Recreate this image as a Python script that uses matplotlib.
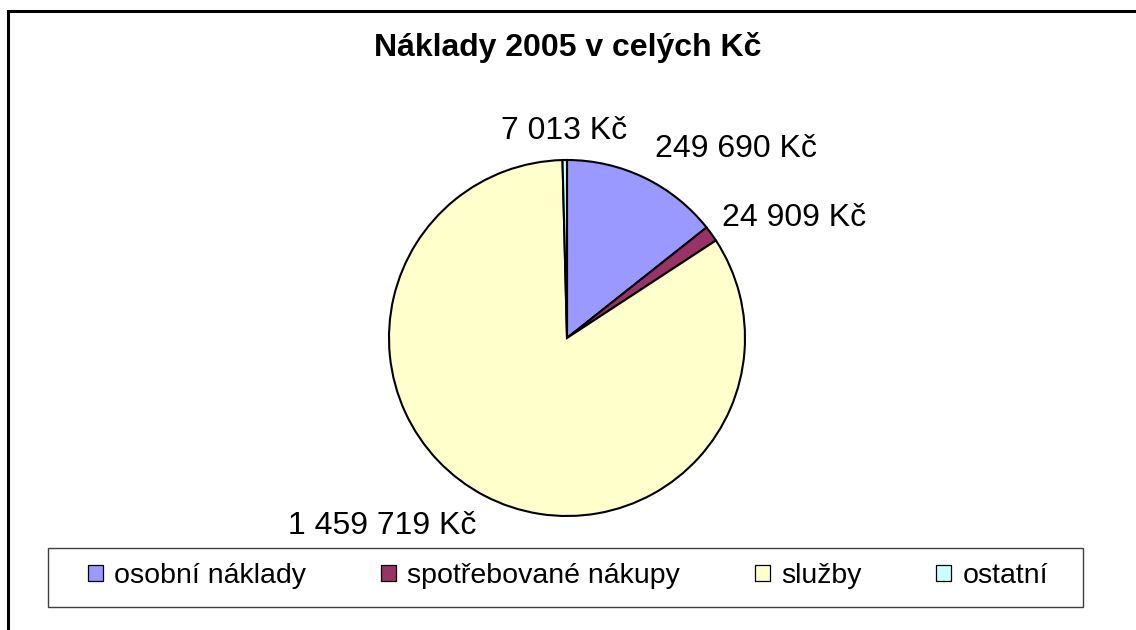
import numpy as np
import matplotlib.pyplot as plt
from matplotlib.patches import Rectangle, Patch

# písmo kompatibilní s Arialem
plt.rcParams['font.family'] = ['Liberation Sans', 'DejaVu Sans']

# data
kategorie = ['osobní náklady', 'spotřebované nákupy', 'služby', 'ostatní']
naklady = [249690, 24909, 1459719, 7013]
popisky = ['249 690 Kč', '24 909 Kč', '1 459 719 Kč', '7 013 Kč']
barvy = ['#9999FF', '#993366', '#FFFFCC', '#CCFFFF']

# rozvržení popisků: (vzdálenost v poloměrech, ha, va)
rozlozeni = [(1.13, 'left', 'baseline'), (1.075, 'left', 'baseline'),
             (1.10, 'right', 'top'), (1.12, 'center', 'baseline')]

W, H = 1136, 630
fig = plt.figure(figsize=(W / 100, H / 100), dpi=100)
ax = fig.add_axes([0, 0, 1, 1])

stred = (567, H - 338)
polomer = 178
wedges, _ = ax.pie(naklady, colors=barvy, startangle=90, counterclock=False,
                   center=stred, radius=polomer,
                   wedgeprops=dict(edgecolor='black', linewidth=1.5))
ax.set_xlim(0, W)
ax.set_ylim(0, H)
ax.axis('off')

# popisky hodnot
for w, txt, (k, ha, va) in zip(wedges, popisky, rozlozeni):
    uhel = np.deg2rad((w.theta1 + w.theta2) / 2)
    x = stred[0] + k * polomer * np.cos(uhel)
    y = stred[1] + k * polomer * np.sin(uhel)
    ax.text(x, y, txt, ha=ha, va=va, fontsize=23)

# nadpis
ax.text(568, H - 56, 'Náklady 2005 v celých Kč', ha='center', va='baseline',
        fontsize=23, fontweight='bold')

# legenda
handles = [Patch(facecolor=c, edgecolor='black', linewidth=0.9) for c in barvy]
ax.legend(handles, kategorie, ncol=4, loc='center',
          bbox_to_anchor=(568, H - 576), bbox_transform=ax.transData,
          frameon=False, fontsize=20.5, handlelength=0.53, handleheight=0.53,
          handletextpad=0.4, columnspacing=2.62)
ax.add_patch(Rectangle((48, H - 607), 1035, 59, fill=False,
                       edgecolor='#404040', linewidth=1))

# vnější rámeček (oříznutý vpravo a dole)
ax.add_patch(Rectangle((8, -20), 1200, H - 11 + 20, fill=False,
                       edgecolor='black', linewidth=2.2))

fig.savefig('out.png', dpi=100)
